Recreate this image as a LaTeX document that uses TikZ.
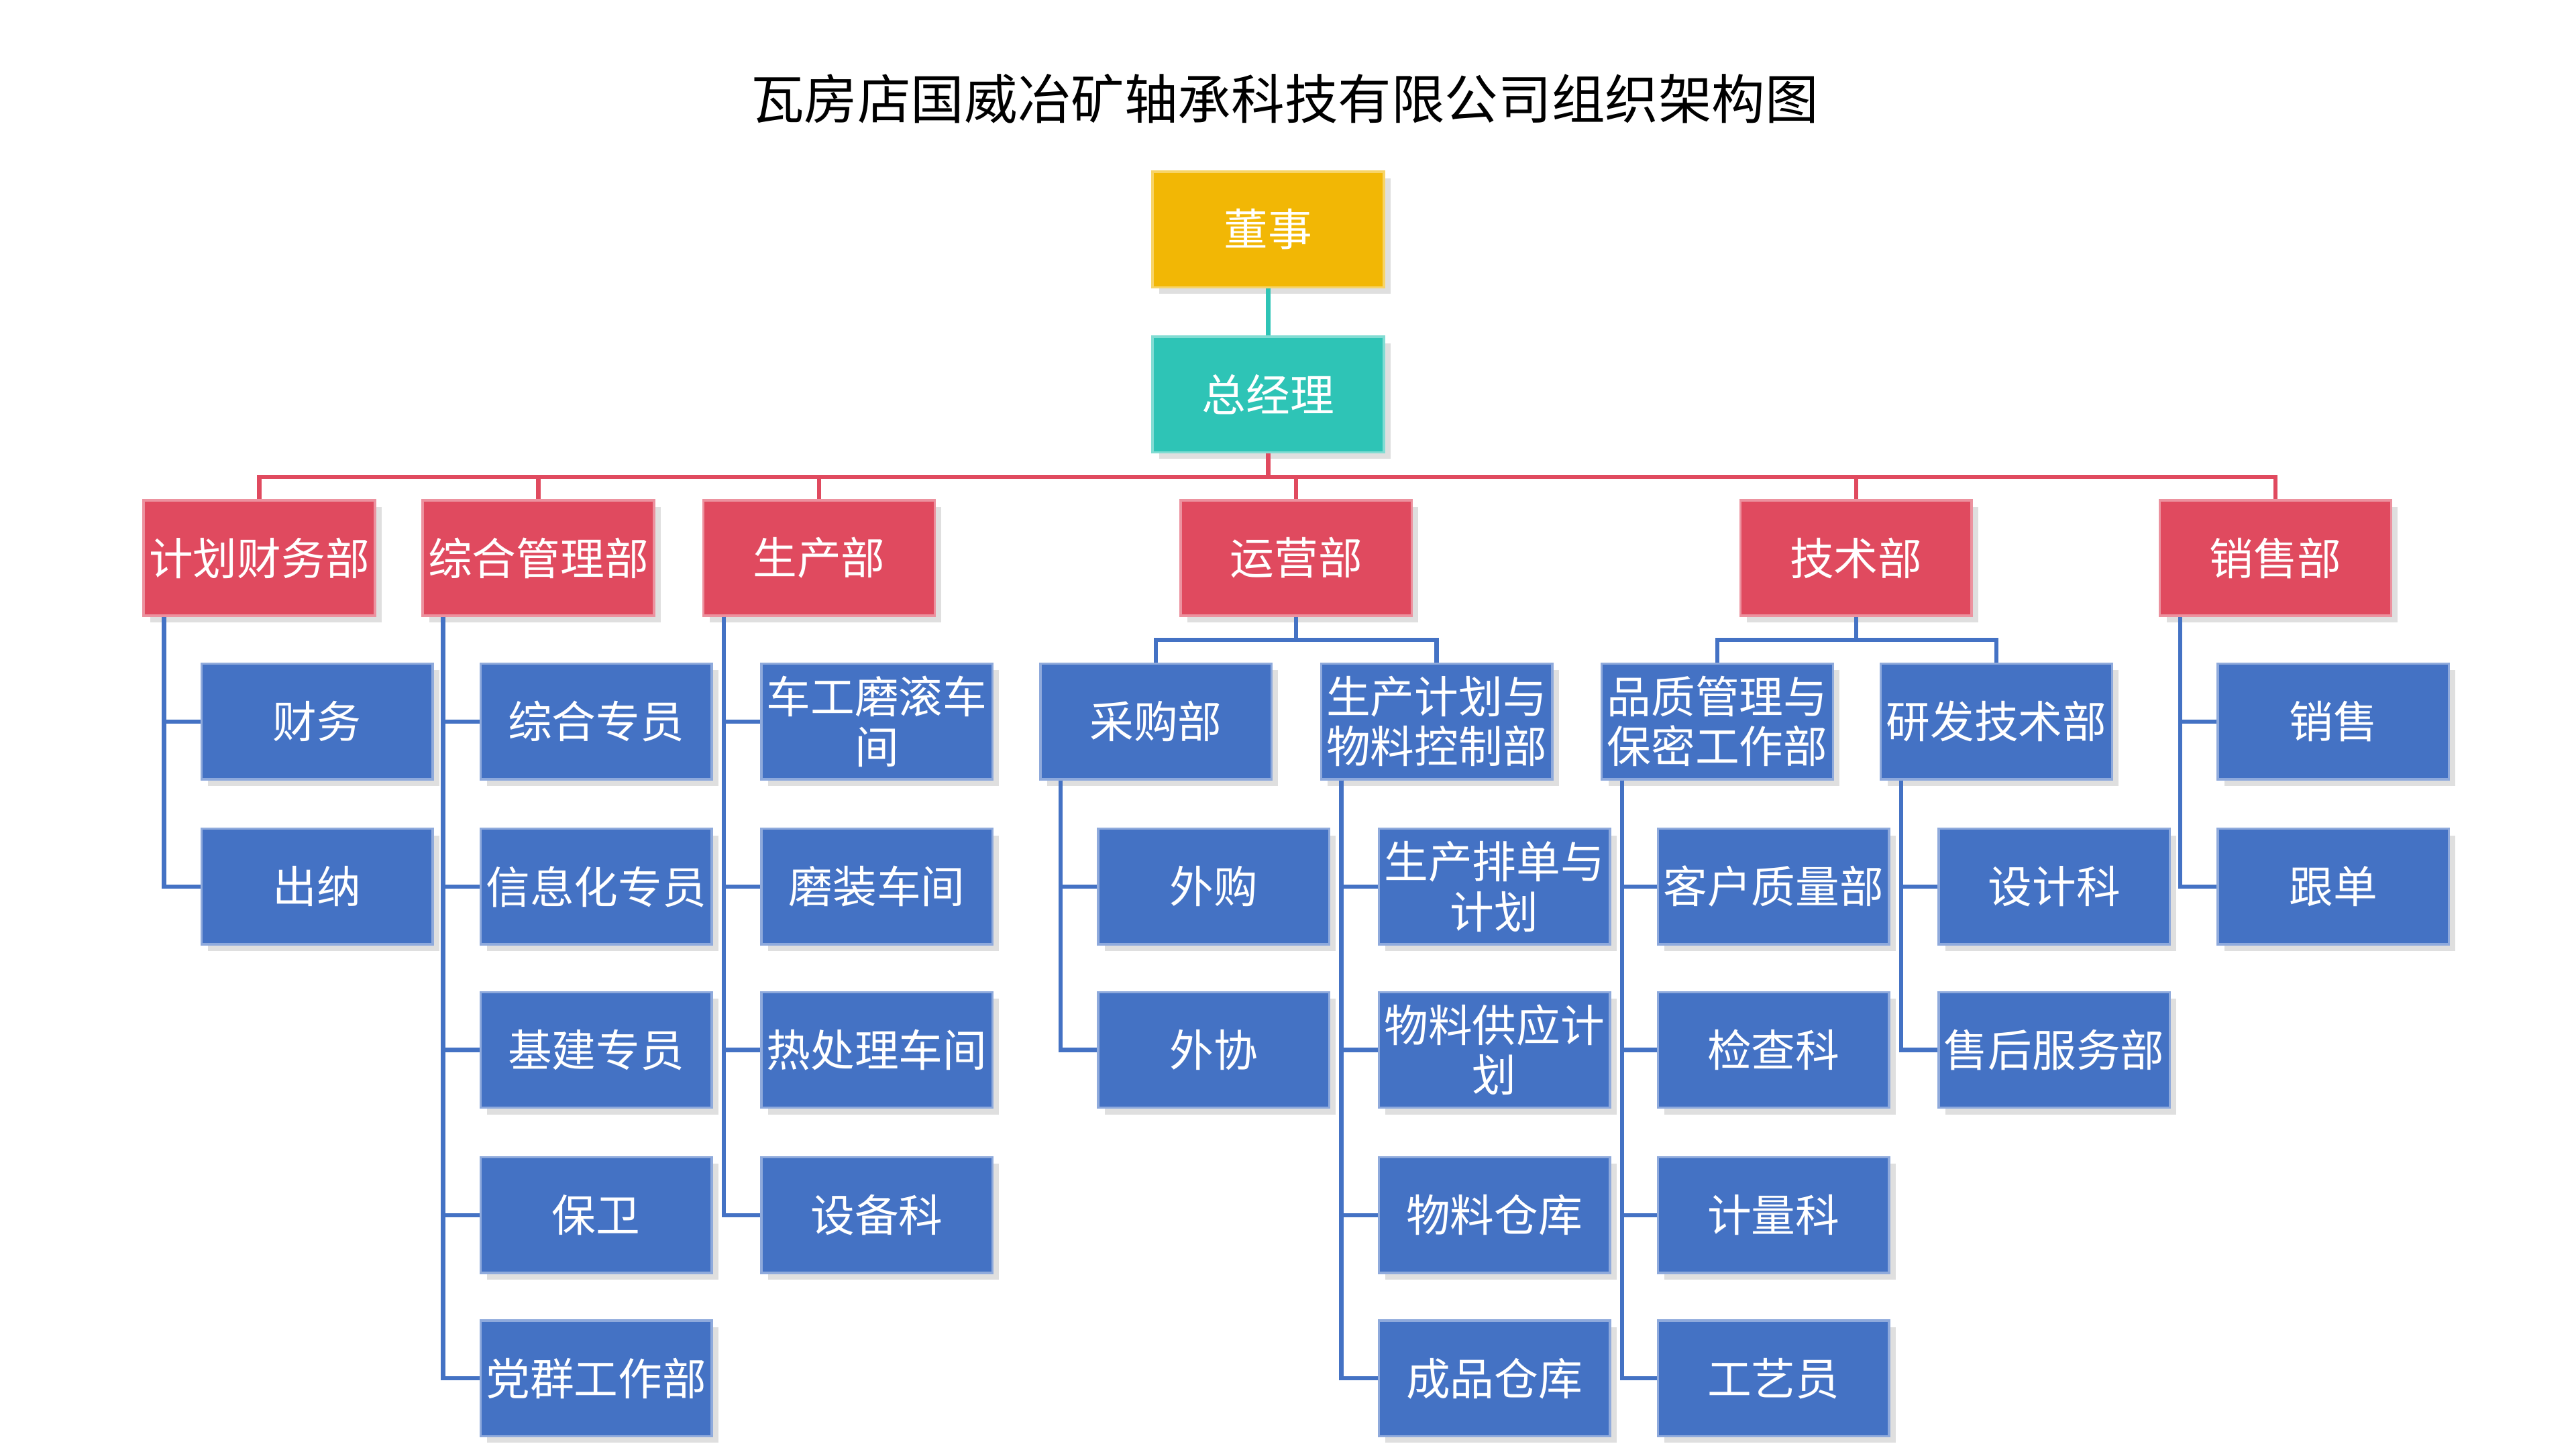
\documentclass[tikz,border=0pt]{standalone}
\usepackage{fontspec}
\setmainfont{Noto Sans CJK SC}
\usetikzlibrary{shadows}
\definecolor{gold}{HTML}{F2B705}
\definecolor{teal}{HTML}{2EC4B6}
\definecolor{redd}{HTML}{E04A5F}
\definecolor{bluu}{HTML}{4472C4}
\begin{document}
\begin{tikzpicture}[x=0.1mm,y=-0.1mm,
 box/.style={minimum width=14mm,minimum height=7mm,inner sep=0.5pt,text width=13.6mm,align=center,
   text=white,font=\fontsize{7.6}{8.6}\selectfont,drop shadow={shadow xshift=0.4mm,shadow yshift=-0.4mm,opacity=0.25}},
 top/.style={box,fill=gold,draw=gold!60},
 gm/.style={box,fill=teal,draw=teal!60},
 dept/.style={box,fill=redd,draw=redd!60},
 sub/.style={box,fill=bluu,draw=bluu!60},
 bl/.style={draw=bluu,line width=0.25mm},
 rl/.style={draw=redd,line width=0.25mm}]
\useasboundingbox (0,0) rectangle (1560,878);
\node[font=\fontsize{9.2}{11}\selectfont] (title) at (778,60) {瓦房店国威冶矿轴承科技有限公司组织架构图};
\node[top] (ds) at (768,139) {董事};
\node[gm] (gm) at (768,239) {总经理};
\draw[draw=teal,line width=0.25mm] (ds) -- (gm);
\node[dept] (d1) at (157,338) {计划财务部};
\node[dept] (d2) at (326,338) {综合管理部};
\node[dept] (d3) at (496,338) {生产部};
\node[dept] (d4) at (785,338) {运营部};
\node[dept] (d5) at (1124,338) {技术部};
\node[dept] (d6) at (1378,338) {销售部};
\foreach \d in {d1,d2,d3,d4,d5,d6}{\draw[rl] (gm.south) -- ++(0,14) -| (\d.north);}
% level rows
\node[sub] (a1) at (192,437) {财务};
\node[sub] (a2) at (192,537) {出纳};
\node[sub] (b1) at (361,437) {综合专员};
\node[sub] (b2) at (361,537) {信息化专员};
\node[sub] (b3) at (361,636) {基建专员};
\node[sub] (b4) at (361,736) {保卫};
\node[sub] (b5) at (361,835) {党群工作部};
\node[sub] (c1) at (531,437) {车工磨滚车\\间};
\node[sub] (c2) at (531,537) {磨装车间};
\node[sub] (c3) at (531,636) {热处理车间};
\node[sub] (c4) at (531,736) {设备科};
\node[sub] (e1) at (700,437) {采购部};
\node[sub] (e2) at (870,437) {生产计划与\\物料控制部};
\node[sub] (f1) at (735,537) {外购};
\node[sub] (f2) at (735,636) {外协};
\node[sub] (g1) at (905,537) {生产排单与\\计划};
\node[sub] (g2) at (905,636) {物料供应计\\划};
\node[sub] (g3) at (905,736) {物料仓库};
\node[sub] (g4) at (905,835) {成品仓库};
\node[sub] (h1) at (1040,437) {品质管理与\\保密工作部};
\node[sub] (h2) at (1209,437) {研发技术部};
\node[sub] (i1) at (1074,537) {客户质量部};
\node[sub] (i2) at (1074,636) {检查科};
\node[sub] (i3) at (1074,736) {计量科};
\node[sub] (i4) at (1074,835) {工艺员};
\node[sub] (j1) at (1244,537) {设计科};
\node[sub] (j2) at (1244,636) {售后服务部};
\node[sub] (k1) at (1413,437) {销售};
\node[sub] (k2) at (1413,537) {跟单};
\foreach \p/\cs in {d1/{a1,a2},d2/{b1,b2,b3,b4,b5},d3/{c1,c2,c3,c4},e1/{f1,f2},e2/{g1,g2,g3,g4},h1/{i1,i2,i3,i4},h2/{j1,j2},d6/{k1,k2}}{
  \foreach \c in \cs {\draw[bl] ([xshift=1.3mm]\p.south west) |- (\c.west);}}
\foreach \p/\cs in {d4/{e1,e2},d5/{h1,h2}}{
  \foreach \c in \cs {\draw[bl] (\p.south) -- ++(0,14) -| (\c.north);}}
\end{tikzpicture}
\end{document}
